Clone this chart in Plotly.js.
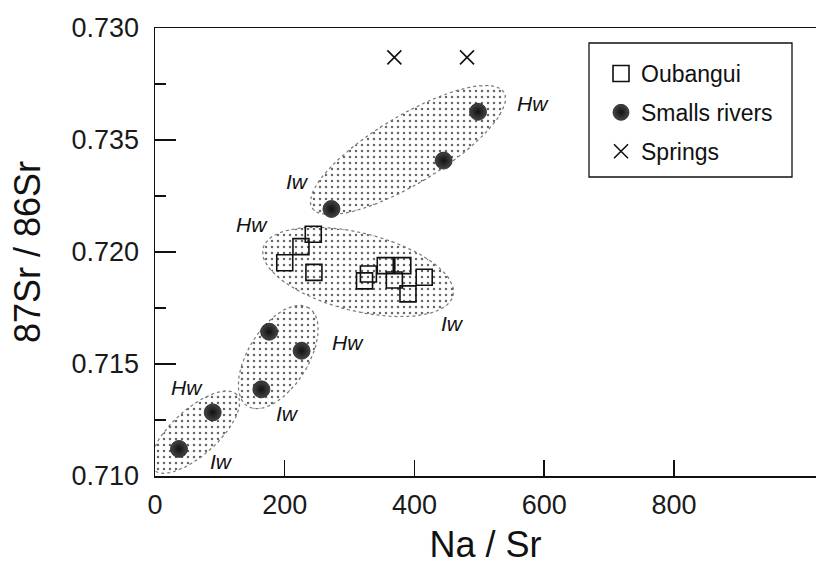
<!DOCTYPE html>
<html>
<head>
<meta charset="utf-8">
<script src="https://cdn.plot.ly/plotly-3.0.1.min.js"></script>
<style>html,body{margin:0;padding:0;background:#fff;}#chart{width:816px;height:572px;}</style>
</head>
<body>
<div id="chart"></div>
<script>
// Oubangui
const oubX = [244, 225, 200, 245, 355, 382, 329, 323, 369, 415, 390];
const oubY = [0.72079, 0.72024, 0.71952, 0.71909, 0.71939, 0.71939, 0.71902, 0.71871, 0.71875, 0.71887, 0.71813];
// Smalls rivers
const rivX = [37, 89, 164, 176, 226, 272, 445, 498];
const rivY = [0.71121, 0.71284, 0.71387, 0.71644, 0.71559, 0.72192, 0.72408, 0.72626];
// Springs
const sprX = [369, 481];
const sprY = [0.72869, 0.72869];
// Y tick labels (as printed in the original figure)
const yTickVals = [0.710, 0.715, 0.720, 0.725, 0.730];
const yTickText = ["0.710", "0.715", "0.720", "0.735", "0.730"];
const xTickVals = [0, 200, 400, 600, 800];
// Envelope groups: centre (data), semi-axes (px), tilt (deg)
const envCX = [62, 190, 313, 390];
const envCY = [0.71196, 0.71531, 0.71911, 0.72455];
const envA = [56, 58, 98, 112];
const envB = [23, 30, 39, 34];
const envAng = [42, 58, -14, 31];
// Water labels
const lblText = ["Hw", "Iw", "Hw", "Iw", "Hw", "Iw", "Hw", "Iw"];
const lblX = [583, 219, 150, 459, 298, 205, 49, 103];
const lblY = [0.72661, 0.72313, 0.72121, 0.71683, 0.71598, 0.71281, 0.71393, 0.71063];

const W = 816, H = 572;
const mL = 155, mR = 0, mT = 28, mB = 96;
const xRange = [0, 1019], yRange = [0.710, 0.730];
const plotW = W - mL - mR, plotH = H - mT - mB;
const pxX = plotW / (xRange[1] - xRange[0]);
const pxY = plotH / (yRange[1] - yRange[0]);
const paperX = px => (px - mL) / plotW;
const paperY = py => (H - mB - py) / plotH;

const traces = [];
for (let i = 0; i < envCX.length; i++) {
  const xs = [], ys = [];
  const th = envAng[i] * Math.PI / 180;
  for (let k = 0; k <= 72; k++) {
    const t = k / 72 * 2 * Math.PI;
    const ux = envA[i] * Math.cos(t) * Math.cos(th) - envB[i] * Math.sin(t) * Math.sin(th);
    const uy = envA[i] * Math.cos(t) * Math.sin(th) + envB[i] * Math.sin(t) * Math.cos(th);
    xs.push(envCX[i] + ux / pxX);
    ys.push(envCY[i] + uy / pxY);
  }
  traces.push({
    x: xs, y: ys, mode: 'lines', fill: 'toself', showlegend: false, hoverinfo: 'skip',
    line: {color: '#777', width: 1.2, dash: 'dot'},
    fillcolor: 'rgba(0,0,0,0)',
    fillpattern: {shape: '.', fgcolor: '#666', bgcolor: 'rgba(255,255,255,0)', size: 6, solidity: 0.14}
  });
}
traces.push({
  x: oubX, y: oubY, mode: 'markers', type: 'scatter', name: 'Oubangui', legendgroup: 'a',
  marker: {symbol: 'square-open', size: 16, color: '#111', line: {width: 1.6, color: '#111'}}
});
traces.push({
  x: rivX, y: rivY, mode: 'markers', type: 'scatter', name: 'Smalls rivers', legendgroup: 'b',
  marker: {symbol: 'circle', size: 17, color: '#444', gradient: {type: 'radial', color: '#111'}, line: {width: 0.8, color: '#222'}}
});
traces.push({
  x: sprX, y: sprY, mode: 'markers', type: 'scatter', name: 'Springs', legendgroup: 'c',
  marker: {symbol: 'x-thin-open', size: 14, color: '#111', line: {width: 1.6, color: '#111'}}
});

const annotations = lblText.map((t, i) => ({
  x: lblX[i], y: lblY[i], xref: 'x', yref: 'y', text: '<i>' + t + '</i>', showarrow: false,
  font: {family: 'Liberation Sans, Arial, sans-serif', size: 21, color: '#111'}
}));

const layout = {
  width: W, height: H,
  margin: {l: mL, r: mR, t: mT, b: mB, pad: 0},
  paper_bgcolor: '#fff', plot_bgcolor: '#fff',
  font: {family: 'Liberation Sans, Arial, sans-serif', color: '#111'},
  showlegend: true,
  legend: {
    x: paperX(601), y: paperY(52), xanchor: 'left', yanchor: 'top',
    borderwidth: 0, bgcolor: 'rgba(255,255,255,0)',
    font: {size: 23, color: '#111'}, traceorder: 'grouped', tracegroupgap: 6
  },
  shapes: [{
    type: 'rect', xref: 'paper', yref: 'paper',
    x0: paperX(589), x1: paperX(792), y0: paperY(177), y1: paperY(43),
    line: {color: '#111', width: 1.3}, fillcolor: 'rgba(0,0,0,0)', layer: 'above'
  }],
  xaxis: {
    range: xRange, tickvals: xTickVals, ticktext: xTickVals.map(String),
    ticks: 'inside', ticklen: 16, tickwidth: 1.5, tickcolor: '#111',
    ticklabelstandoff: 4,
    showline: true, linecolor: '#111', linewidth: 1.5, mirror: true,
    showgrid: false, zeroline: false,
    tickfont: {size: 27, color: '#1a1a1a'},
    title: {text: 'Na / Sr', font: {size: 36, color: '#111'}, standoff: 13}
  },
  yaxis: {
    range: yRange, tickvals: yTickVals, ticktext: yTickText,
    ticks: 'inside', ticklen: 21, tickwidth: 1.5, tickcolor: '#111',
    ticklabelstandoff: 9,
    minor: {ticks: 'inside', ticklen: 11, tickwidth: 1.5, tickcolor: '#111', dtick: 0.0025, tick0: 0.710, showgrid: false},
    showline: true, linecolor: '#111', linewidth: 1.5, mirror: false,
    showgrid: false, zeroline: false,
    tickfont: {size: 27, color: '#1a1a1a'},
    title: {text: '87Sr / 86Sr', font: {size: 36, color: '#111'}, standoff: 20}
  },
  annotations: annotations
};

Plotly.newPlot('chart', traces, layout, {staticPlot: true, displayModeBar: false});
</script>
</body>
</html>
